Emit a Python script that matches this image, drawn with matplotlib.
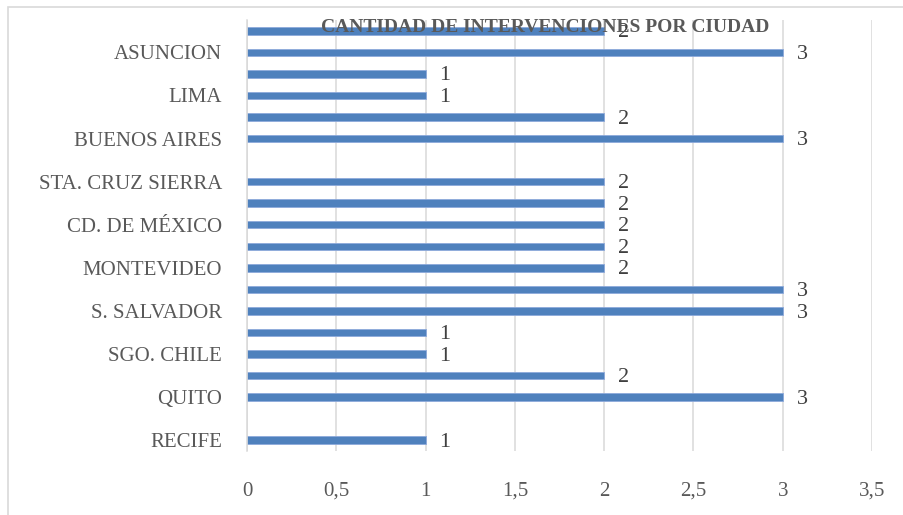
import matplotlib.pyplot as plt
from matplotlib.patches import Rectangle

# Intervenciones por ciudad (de abajo hacia arriba); "" = fila sin etiqueta visible
ciudades = ['RECIFE', '', 'QUITO', '', 'SGO. CHILE', '', 'S. SALVADOR', '',
            'MONTEVIDEO', '', 'CD. DE MÉXICO', '', 'STA. CRUZ SIERRA', '',
            'BUENOS AIRES', '', 'LIMA', '', 'ASUNCION', '']
intervenciones = [1, None, 3, 2, 1, 1, 3, 3, 2, 2, 2, 2, 2, None, 3, 2, 1, 1, 3, 2]
xticks = [0, 0.5, 1, 1.5, 2, 2.5, 3, 3.5]
xtick_labels = ['0', '0,5', '1', '1,5', '2', '2,5', '3', '3,5']

plt.rcParams['font.family'] = ['Liberation Serif', 'DejaVu Serif']

fig = plt.figure(figsize=(9.04, 5.15), dpi=100)
ax = fig.add_axes([247 / 904, 1 - 451 / 515, (872 - 247) / 904, (451 - 20) / 515])

blue = '#4F81BD'
for i, v in enumerate(intervenciones):
    if v is None:
        continue
    ax.barh(i, v, height=0.35, color=blue, edgecolor='#8EAADB', linewidth=0.6, zorder=2)
    ax.annotate(str(v), (v, i), xytext=(10, -1.5), textcoords='offset points',
                va='center', ha='left', fontsize=16, color='#404040')

ax.set_xlim(0, 3.5)
ax.set_ylim(-0.5, len(ciudades) - 0.5)
ax.set_xticks(xticks)
ax.set_xticklabels(xtick_labels)
ax.set_yticks(range(0, len(ciudades), 2))
ax.set_yticklabels(ciudades[::2])

ax.grid(axis='x', color='#D9D9D9', linewidth=1.1, zorder=0)
ax.set_axisbelow(True)
for side in ['top', 'right', 'bottom']:
    ax.spines[side].set_visible(False)
ax.spines['left'].set_color('#D9D9D9')
ax.spines['left'].set_linewidth(1.1)
ax.tick_params(length=0, labelsize=15, labelcolor='#595959')
ax.tick_params(axis='x', pad=22)
ax.tick_params(axis='y', pad=18)

fig.text(545 / 904, 1 - 28 / 515, 'CANTIDAD DE INTERVENCIONES POR CIUDAD',
         ha='center', va='center', fontsize=14, fontweight='bold', color='#595959')

# marco exterior del gráfico
fig.patches.append(Rectangle((8 / 904, -0.05), 1.0, 1 - 7 / 515 + 0.05,
                             transform=fig.transFigure, fill=False,
                             edgecolor='#D9D9D9', linewidth=1.2))

fig.savefig('out.png', dpi=100)
